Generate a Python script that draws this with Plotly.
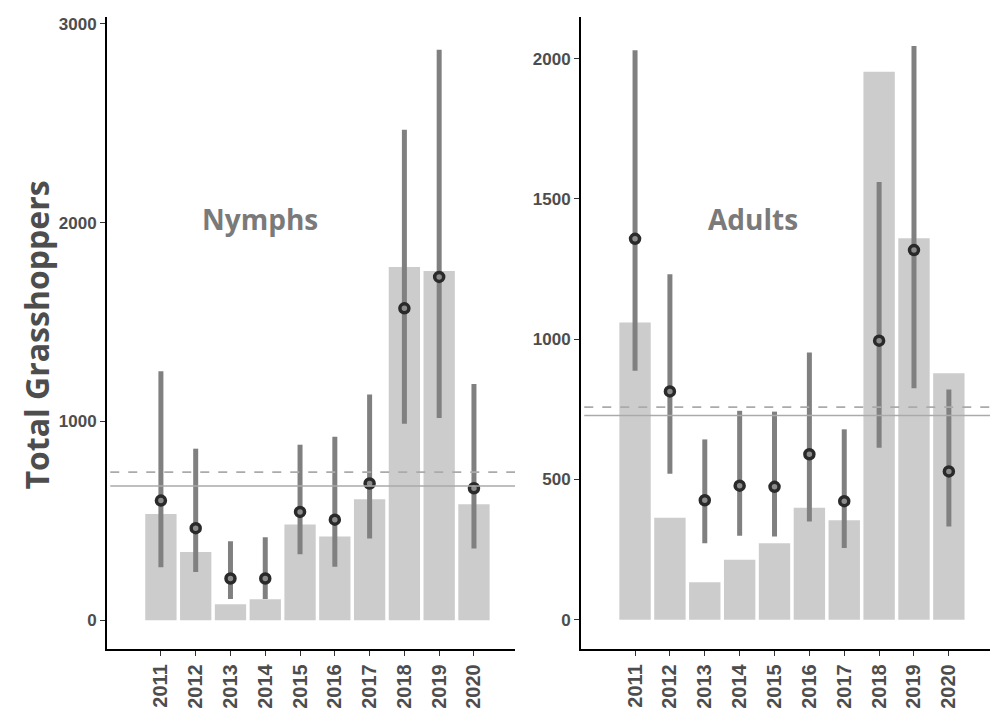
import plotly.graph_objects as go

years = ["2011", "2012", "2013", "2014", "2015", "2016", "2017", "2018", "2019", "2020"]

# Nymphs (left panel)
nymph_bar = [535, 343, 80, 105, 482, 421, 608, 1777, 1757, 584]
nymph_mean = [602, 463, 210, 210, 545, 506, 688, 1569, 1727, 664]
nymph_hi = [1252, 863, 397, 418, 883, 923, 1135, 2467, 2870, 1188]
nymph_lo = [267, 243, 107, 107, 332, 269, 411, 989, 1017, 361]
nymph_dash = 745
nymph_solid = 675

# Adults (right panel)
adult_bar = [1060, 364, 134, 214, 273, 399, 355, 1954, 1360, 879]
adult_mean = [1358, 814, 426, 478, 474, 590, 423, 995, 1318, 529]
adult_hi = [2030, 1232, 643, 745, 742, 953, 679, 1561, 2045, 821]
adult_lo = [888, 521, 273, 300, 297, 350, 256, 613, 825, 333]
adult_dash = 758
adult_solid = 728

y_ticks_left = [0, 1000, 2000, 3000]
y_ticks_right = [0, 500, 1000, 1500, 2000]

BAR = "#cccccc"
ERR = "#808080"
PT = "#2a2a2a"
LINE = "#aaaaaa"
TXT = "#4d4d4d"

fig = go.Figure()

def add_panel(bars, mean, hi, lo, xa, ya):
    fig.add_trace(go.Bar(x=years, y=bars, marker=dict(color=BAR, line=dict(width=0)),
                         xaxis=xa, yaxis=ya, showlegend=False, hoverinfo="skip"))
    fig.add_trace(go.Scatter(
        x=years, y=mean, mode="markers", xaxis=xa, yaxis=ya, showlegend=False,
        marker=dict(size=9, color="#8c8c8c", line=dict(color=PT, width=3.5)),
        error_y=dict(type="data", symmetric=False,
                     array=[h - m for h, m in zip(hi, mean)],
                     arrayminus=[m - l for m, l in zip(mean, lo)],
                     color=ERR, thickness=5, width=0)))

add_panel(nymph_bar, nymph_mean, nymph_hi, nymph_lo, "x", "y")
add_panel(adult_bar, adult_mean, adult_hi, adult_lo, "x2", "y2")

def hline(val, xref, yref, dash):
    fig.add_shape(type="line", xref=xref + " domain", yref=yref, x0=0.008, x1=1, y0=val, y1=val,
                  line=dict(color=LINE, width=1.6, dash=dash), layer="above")

hline(nymph_dash, "x", "y", "dash")
hline(nymph_solid, "x", "y", "solid")
hline(adult_dash, "x2", "y2", "dash")
hline(adult_solid, "x2", "y2", "solid")

xcommon = dict(type="category", range=[-1.55, 10.18], showline=True, linecolor="black", linewidth=2,
               ticks="outside", ticklen=5, tickcolor="#333333", tickwidth=1.2, tickangle=-90,
               showgrid=False, zeroline=False,
               tickfont=dict(family="Liberation Sans, Arial", size=20, color=TXT, weight="bold"))
ycommon = dict(showline=True, linecolor="black", linewidth=2, ticks="outside", ticklen=5,
               tickcolor="#333333", tickwidth=1.2, showgrid=False, zeroline=False,
               tickfont=dict(family="Liberation Sans, Arial", size=17, color=TXT, weight="bold"))

fig.update_layout(
    width=1003, height=709, margin=dict(l=0, r=0, t=0, b=0),
    paper_bgcolor="white", plot_bgcolor="white", bargap=0.1,
    xaxis=dict(domain=[107/1003, 515/1003], anchor="y", **xcommon),
    yaxis=dict(domain=[59/709, 694/709], anchor="x", range=[-146, 3035], tickvals=y_ticks_left, **ycommon),
    xaxis2=dict(domain=[581/1003, 990/1003], anchor="y2", **xcommon),
    yaxis2=dict(domain=[59/709, 694/709], anchor="x2", range=[-105, 2149], tickvals=y_ticks_right, **ycommon),
)

fig.add_annotation(text="<b>Total Grasshoppers</b>", xref="paper", yref="paper", x=37/1003, y=0.5275,
                   xanchor="center", yanchor="middle",
                   textangle=-90, showarrow=False, font=dict(family="Open Sans", size=32, color=TXT))
fig.add_annotation(text="<b>Nymphs</b>", xref="paper", yref="paper", x=260/1003, y=(709-218)/709,
                   xanchor="center", yanchor="middle",
                   showarrow=False, font=dict(family="Open Sans", size=28, color="#7a7a7a"))
fig.add_annotation(text="<b>Adults</b>", xref="paper", yref="paper", x=753/1003, y=(709-218)/709,
                   xanchor="center", yanchor="middle",
                   showarrow=False, font=dict(family="Open Sans", size=28, color="#7a7a7a"))

fig.write_html("out.html", config={"displayModeBar": False},
               post_script="document.body.style.margin='0';document.body.style.overflow='hidden';")
